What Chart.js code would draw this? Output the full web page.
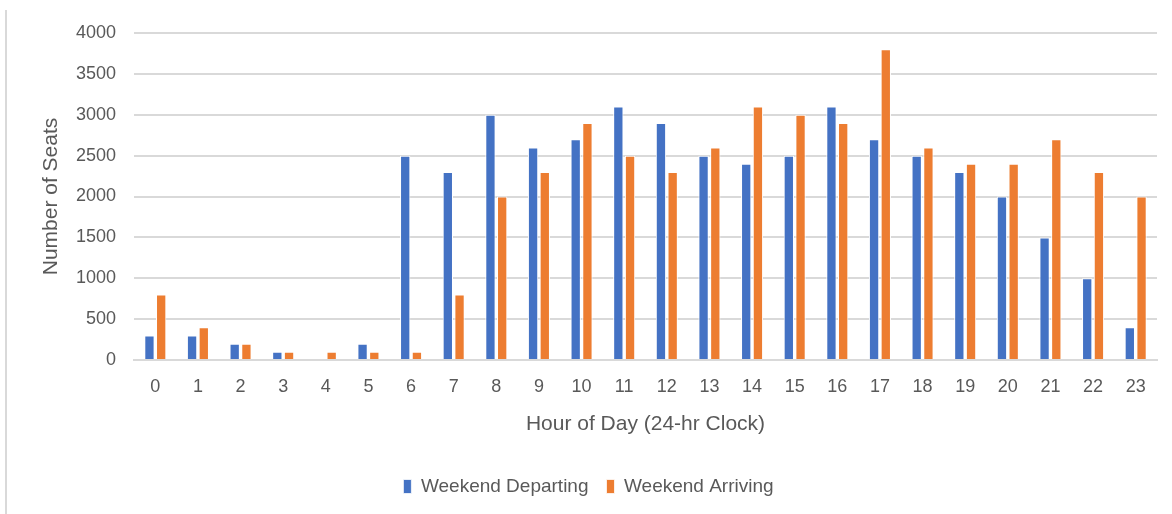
<!DOCTYPE html>
<html>
<head>
<meta charset="utf-8">
<script src="https://cdn.jsdelivr.net/npm/chart.js@4"></script>
<style>
    html, body { margin: 0; padding: 0; background: #fff; }
    #wrap { position: relative; width: 1172px; height: 514px; }
    #frame { position: absolute; left: 5px; top: 10px; bottom: 0; border-left: 2px solid #d9d9d9; }
    canvas { position: absolute; left: 0; top: 0; }
</style>
</head>
<body>
<div id="wrap">
    <div id="frame"></div>
    <canvas id="seatsChart" width="1172" height="514"></canvas>
</div>
<script>
const hours = ['0','1','2','3','4','5','6','7','8','9','10','11','12','13','14','15','16','17','18','19','20','21','22','23'];
const departing = [300, 300, 200, 100, 0, 200, 2500, 2300, 3000, 2600, 2700, 3100, 2900, 2500, 2400, 2500, 3100, 2700, 2500, 2300, 2000, 1500, 1000, 400];
const arriving = [800, 400, 200, 100, 100, 100, 100, 800, 2000, 2300, 2900, 2500, 2300, 2600, 3100, 3000, 2900, 3800, 2600, 2400, 2400, 2700, 2300, 2000];

const fontFamily = "'Liberation Sans', 'DejaVu Sans', sans-serif";
const textColor = '#595959';
const gridColor = '#d9d9d9';

const ctx = document.getElementById('seatsChart').getContext('2d');

new Chart(ctx, {
    type: 'bar',
    data: {
        labels: hours,
        datasets: [
            {
                label: 'Weekend Departing',
                data: departing,
                backgroundColor: '#4472c4',
                borderColor: '#ffffff',
                borderWidth: { left: 1, right: 1, top: 1, bottom: 0 },
                barPercentage: 0.88,
                categoryPercentage: 0.55
            },
            {
                label: 'Weekend Arriving',
                data: arriving,
                backgroundColor: '#ed7d31',
                borderColor: '#ffffff',
                borderWidth: { left: 1, right: 1, top: 1, bottom: 0 },
                barPercentage: 0.88,
                categoryPercentage: 0.55
            }
        ]
    },
    options: {
        responsive: false,
        animation: false,
        layout: {
            padding: { left: 20, right: 15, top: 33, bottom: 8 }
        },
        plugins: {
            legend: {
                position: 'bottom',
                labels: {
                    color: textColor,
                    font: { family: fontFamily, size: 19 },
                    boxWidth: 8,
                    boxHeight: 14,
                    padding: 18
                }
            },
            tooltip: { enabled: false }
        },
        scales: {
            x: {
                grid: { display: false },
                border: { display: true, color: gridColor, width: 2 },
                ticks: {
                    color: textColor,
                    font: { family: fontFamily, size: 18 },
                    padding: 8,
                    maxRotation: 0
                },
                title: {
                    display: true,
                    text: 'Hour of Day (24-hr Clock)',
                    color: textColor,
                    font: { family: fontFamily, size: 21 },
                    padding: { top: 10, bottom: 22 }
                },
                afterFit: (scale) => { scale.height = 99; }
            },
            y: {
                min: 0,
                max: 4000,
                ticks: {
                    stepSize: 500,
                    color: textColor,
                    font: { family: fontFamily, size: 18 },
                    padding: 18,
                    callback: (v) => String(v)
                },
                grid: { color: gridColor, lineWidth: 2, drawTicks: false },
                border: { display: false },
                title: {
                    display: true,
                    text: 'Number of Seats',
                    color: textColor,
                    font: { family: fontFamily, size: 21 },
                    padding: { top: 19, bottom: 8 }
                },
                afterFit: (scale) => { scale.width = 114; }
            }
        }
    }
});
</script>
</body>
</html>
